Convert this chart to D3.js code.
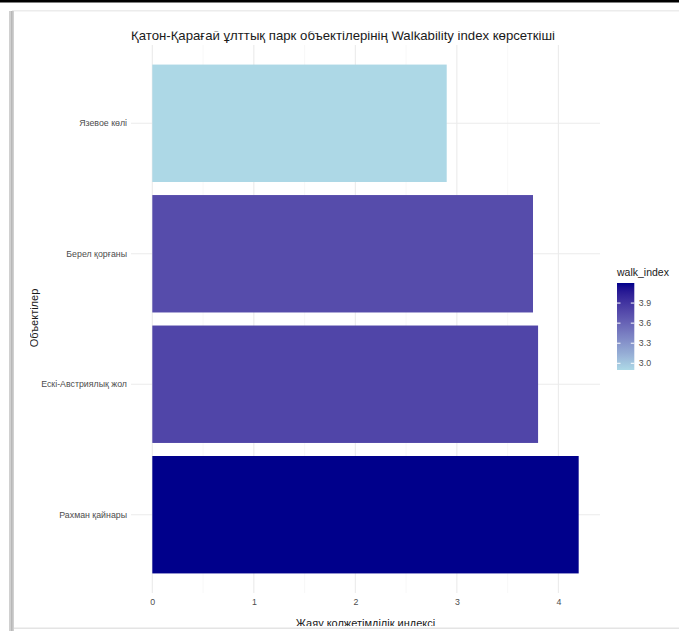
<!DOCTYPE html>
<html><head><meta charset="utf-8">
<script src="https://cdn.jsdelivr.net/npm/d3@7"></script>
<style>body{margin:0;background:#fff}svg{display:block;font-family:"Liberation Sans",Arial,sans-serif}</style>
</head><body>
<script>
const categories = ["Язевое көлі", "Берел қорғаны", "Ескі-Австриялық жол", "Рахман қайнары"];
const values = [2.9, 3.75, 3.8, 4.2];
const xTicks = [0, 1, 2, 3, 4];
const legendTicks = [3.0, 3.3, 3.6, 3.9];
const title = "Қатон-Қарағай ұлттық парк объектілерінің Walkability index көрсеткіші";
const xTitle = "Жаяу қолжетімділік индексі";
const yTitle = "Объектілер";
const legendTitle = "walk_index";

const W = 679, H = 631;
const svg = d3.select("body").append("svg").attr("width", W).attr("height", H);

// screenshot frame
svg.append("rect").attr("x",0).attr("y",0).attr("width",W).attr("height",2.5).attr("fill","#000");
svg.append("rect").attr("x",12).attr("y",10).attr("width",W-12).attr("height",1.5).attr("fill","#ececec");
svg.append("rect").attr("x",9).attr("y",11).attr("width",5).attr("height",H-11).attr("fill","#d0d0d0");
svg.append("rect").attr("x",11).attr("y",11).attr("width",1.5).attr("height",H-11).attr("fill","#b8b8b8");
svg.append("rect").attr("x",14).attr("y",627.5).attr("width",W-14).attr("height",1.5).attr("fill","#e4e4e4");

const defs = svg.append("defs");
defs.append("clipPath").attr("id","clip").append("rect").attr("x",30).attr("y",31.5).attr("width",W-30).attr("height",626-31.5);

const g = svg.append("g").attr("clip-path","url(#clip)");

const panel = {left:131, right:600, top:45, bottom:593};
const x = d3.scaleLinear().domain([-0.21, 4.41]).range([panel.left, panel.right]);
const y = d3.scaleBand().domain(categories).range([panel.top, panel.bottom]).paddingInner(0.1).paddingOuter(0.15);
const color = d3.scaleLinear().domain([2.9, 4.2]).range(["lightblue","darkblue"]).interpolate(d3.interpolateLab);

// grid
const minor = d3.range(0.5, 4.5, 1);
g.selectAll(".minor").data(minor).join("line")
  .attr("x1",d=>x(d)).attr("x2",d=>x(d)).attr("y1",panel.top).attr("y2",panel.bottom)
  .attr("stroke","#f3f3f3").attr("stroke-width",0.6);
g.selectAll(".major").data(xTicks).join("line")
  .attr("x1",d=>x(d)).attr("x2",d=>x(d)).attr("y1",panel.top).attr("y2",panel.bottom)
  .attr("stroke","#ebebeb").attr("stroke-width",1.1);
g.selectAll(".hgrid").data(categories).join("line")
  .attr("x1",panel.left).attr("x2",panel.right)
  .attr("y1",d=>y(d)+y.bandwidth()/2).attr("y2",d=>y(d)+y.bandwidth()/2)
  .attr("stroke","#ebebeb").attr("stroke-width",1.1);

// bars
g.selectAll(".bar").data(categories).join("rect")
  .attr("x",x(0)).attr("y",d=>y(d))
  .attr("width",(d,i)=>x(values[i])-x(0)).attr("height",y.bandwidth())
  .attr("fill",(d,i)=>color(values[i]));

// axes
const xAxis = d3.axisBottom(x).tickValues(xTicks).tickSize(0).tickPadding(6).tickFormat(d3.format("d"));
const xa = g.append("g").attr("transform",`translate(0,${panel.bottom})`).call(xAxis);
xa.select(".domain").remove();
xa.selectAll("text").attr("fill","#4d4d4d").attr("font-size","8.8px").attr("font-family","Liberation Sans, Arial, sans-serif");

const yAxis = d3.axisLeft(y).tickSize(0).tickPadding(4);
const ya = g.append("g").attr("transform",`translate(${panel.left},0)`).call(yAxis);
ya.select(".domain").remove();
ya.selectAll("text").attr("fill","#4d4d4d").attr("font-size","8.8px").attr("font-family","Liberation Sans, Arial, sans-serif");

// titles
g.append("text").attr("x",343).attr("y",39.5).attr("text-anchor","middle")
  .attr("font-size","13.2px").attr("fill","#1a1a1a").text(title);
g.append("text").attr("x",(panel.left+panel.right)/2).attr("y",627).attr("text-anchor","middle")
  .attr("font-size","11px").attr("fill","#1a1a1a").text(xTitle);
g.append("text").attr("transform","translate(37.5,318) rotate(-90)").attr("text-anchor","middle")
  .attr("font-size","11px").attr("fill","#1a1a1a").text(yTitle);

// legend
const lg = svg.append("g");
lg.append("text").attr("x",617).attr("y",276).attr("font-size","10.5px").attr("fill","#1a1a1a").text(legendTitle);
const grad = defs.append("linearGradient").attr("id","grad").attr("x1",0).attr("y1",1).attr("x2",0).attr("y2",0);
d3.range(0,1.0001,0.05).forEach(t=>{
  grad.append("stop").attr("offset",t).attr("stop-color",color(2.9+t*1.3));
});
const ly = d3.scaleLinear().domain([2.9,4.2]).range([370,283]);
const barX = 617, barW = 17.3;
lg.append("rect").attr("x",barX).attr("y",ly(4.2)).attr("width",barW).attr("height",ly(2.9)-ly(4.2)).attr("fill","url(#grad)");
legendTicks.forEach(v=>{
  lg.append("line").attr("x1",barX).attr("x2",barX+3.5).attr("y1",ly(v)).attr("y2",ly(v)).attr("stroke","#fff").attr("stroke-width",1);
  lg.append("line").attr("x1",barX+barW-3.5).attr("x2",barX+barW).attr("y1",ly(v)).attr("y2",ly(v)).attr("stroke","#fff").attr("stroke-width",1);
  lg.append("text").attr("x",barX+barW+4.5).attr("y",ly(v)).attr("dy","0.35em").attr("font-size","8.8px").attr("fill","#4d4d4d").text(d3.format(".1f")(v));
});
</script>
</body></html>
